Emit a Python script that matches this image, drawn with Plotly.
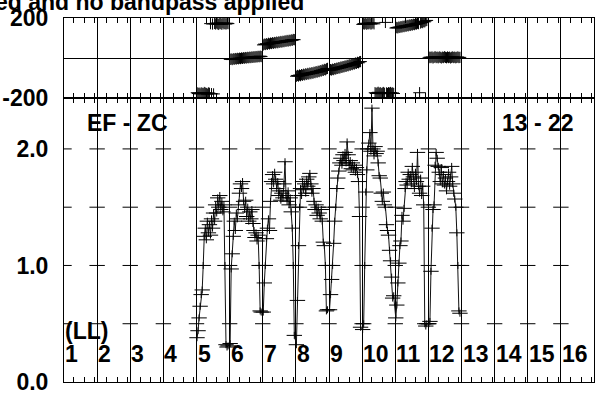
import plotly.graph_objects as go

# ---------------- data ----------------
IF_NUMBERS = [5, 6, 7, 8, 9, 10, 11, 12]
CHANNELS = list(range(1, 32))
N_IF_TOTAL = 16
CHAN_PER_IF = 32
IF_LABELS = [str(i) for i in range(1, 17)]
AMP_TICK_VALUES = [0.0, 1.0, 2.0]
AMP_TICK_TEXT = ["0.0", "1.0", "2.0"]
AMP_CROSS_TICKS = [0.5, 1.0, 1.5, 2.0]
PHASE_TICK_VALUES = [-200, 0, 200]
PHASE_TICK_TEXT = ["-200", "", "200"]
CHAN_TICKS = [10, 20, 30]
PHASE_ERR = 28
AMP_ERR = 0.03

amp_if05 = [0.38, 0.44, 0.55, 0.65, 0.75, 0.79, 1.00, 1.25, 1.32, 1.22,
            1.38, 1.28, 1.35, 1.26, 1.40, 1.32, 1.45, 1.38, 1.52, 1.45,
            1.58, 1.50, 1.60, 1.48, 1.55, 1.46, 1.52, 1.00, 0.32, 0.30, 0.31]
amp_if06 = [0.33, 0.97, 1.10, 1.25, 1.38, 1.30, 1.45, 1.40, 1.52, 1.62,
            1.70, 1.66, 1.72, 1.55, 1.48, 1.56, 1.42, 1.50, 1.38, 1.46,
            1.40, 1.48, 1.36, 1.30, 1.24, 1.28, 1.21, 1.26, 1.00, 0.61, 0.60]
amp_if07 = [0.60, 0.85, 1.00, 1.23, 1.32, 1.40, 1.30, 1.55, 1.72, 1.78,
            1.70, 1.80, 1.74, 1.66, 1.72, 1.60, 1.64, 1.56, 1.62, 1.58,
            1.70, 1.89, 1.60, 1.55, 1.64, 1.52, 1.58, 1.46, 1.32, 1.00, 0.40]
amp_if08 = [0.32, 0.70, 1.17, 1.50, 1.66, 1.60, 1.72, 1.65, 1.70, 1.62,
            1.74, 1.68, 1.76, 1.79, 1.70, 1.62, 1.66, 1.55, 1.48, 1.52,
            1.43, 1.50, 1.45, 1.40, 1.48, 1.38, 1.20, 1.17, 1.00, 0.61, 0.62]
amp_if09 = [0.62, 0.75, 0.88, 1.00, 1.19, 1.38, 1.50, 1.66, 1.75, 1.81,
            1.88, 1.92, 1.86, 1.95, 1.90, 1.97, 1.88, 2.06, 1.95, 1.86,
            1.90, 1.83, 1.88, 1.82, 1.86, 1.80, 1.84, 1.78, 1.72, 1.42, 0.47]
amp_if10 = [0.45, 0.50, 1.00, 1.63, 1.82, 2.00, 2.05, 2.14, 1.98, 2.35,
            2.00, 1.94, 2.02, 1.96, 1.98, 1.88, 1.77, 1.75, 1.62, 1.55,
            1.63, 1.52, 1.50, 1.35, 1.30, 1.26, 1.13, 1.04, 0.90, 0.72, 0.74]
amp_if11 = [0.55, 0.66, 0.85, 1.02, 1.17, 1.21, 1.43, 1.38, 1.49, 1.66,
            1.72, 1.69, 1.80, 1.74, 1.78, 1.70, 1.85, 1.76, 1.66, 1.80,
            1.72, 1.97, 1.68, 1.62, 1.75, 1.60, 1.68, 1.52, 0.50, 0.48, 0.50]
amp_if12 = [0.50, 0.52, 0.95, 1.32, 1.48, 1.52, 1.86, 1.97, 1.92, 1.85,
            1.80, 1.72, 1.84, 1.70, 1.78, 1.69, 1.75, 1.64, 1.72, 1.80,
            1.68, 1.76, 1.85, 1.70, 1.62, 1.57, 1.50, 1.28, 1.00, 0.61, 0.59]

ph_if05 = [-172, -176, -174, -178, -173, -175, -177, -171, -174, -176,
           -179, -173, -175, 172, -177, 170, -178, 173, 170, 175,
           171, 168, 174, 172, 169, 176, 171, 173, 170, 174, 172]
ph_if06 = [-6, -4, -7, -3, -5, -2, -4, -1, -3, 0,
           -2, 1, -1, 2, 0, 3, 1, 4, 2, 5,
           3, 6, 4, 7, 5, 8, 6, 9, 7, 10, 8]
ph_if07 = [66, 70, 68, 72, 69, 74, 71, 75, 73, 77,
           74, 78, 76, 80, 77, 81, 79, 83, 80, 84,
           82, 86, 84, 88, 85, 89, 87, 91, 89, 93, 92]
ph_if08 = [-90, -86, -89, -84, -87, -82, -85, -80, -83, -78,
           -81, -76, -79, -74, -77, -72, -75, -70, -72, -67,
           -70, -65, -67, -62, -64, -59, -61, -56, -58, -53, -51]
ph_if09 = [-60, -57, -59, -55, -57, -52, -54, -50, -51, -47,
           -49, -44, -46, -42, -43, -39, -41, -36, -38, -33,
           -35, -30, -32, -27, -29, -24, -26, -21, -23, -18, -17]
ph_if10 = [168, 172, 170, 174, 169, 173, 171, 175, 170, 172,
           176, 171, -172, -176, -173, -170, -175, -172, -177, -174,
           -171, -175, 178, -173, -176, -172, -174, -171, -175, -173, -176]
ph_if11 = [150, 153, 151, 155, 153, 157, 155, 159, 157, 161,
           159, 163, 161, 165, 163, 167, 165, 169, 167, 171,
           170, 174, 172, -172, 175, 179, 177, 182, 181, 186, 188]
ph_if12 = [2, 5, 3, 6, 1, 4, 7, 3, 5, 2,
           6, 4, 1, 5, 3, 7, 4, 2, 6, 3,
           5, 1, 4, 6, 3, 5, 2, 4, 6, 3, 4]

amp_lists = [amp_if05, amp_if06, amp_if07, amp_if08,
             amp_if09, amp_if10, amp_if11, amp_if12]
ph_lists = [ph_if05, ph_if06, ph_if07, ph_if08,
            ph_if09, ph_if10, ph_if11, ph_if12]

# ---------------- build ----------------
x_all, amp_all, ph_all = [], [], []
for ifn, amps, phs in zip(IF_NUMBERS, amp_lists, ph_lists):
    for ch, a, p in zip(CHANNELS, amps, phs):
        x_all.append((ifn - 1) * CHAN_PER_IF + ch)
        amp_all.append(a)
        ph_all.append(p)

boundaries = [k * CHAN_PER_IF + 0.5 for k in range(N_IF_TOTAL + 1)]
chan_tick_pos = [k * CHAN_PER_IF + c for k in range(N_IF_TOTAL) for c in CHAN_TICKS]

FONT = "Liberation Sans, Arial, Helvetica, sans-serif"
BLACK = "#000000"

fig = go.Figure()

# boundary tick crosses in amplitude panel
bx, by = [], []
for b in boundaries[:-1]:
    for v in AMP_CROSS_TICKS:
        bx.append(b)
        by.append(v)
fig.add_trace(go.Scatter(
    x=bx, y=by, mode="markers", xaxis="x", yaxis="y",
    marker=dict(symbol="line-ew", size=11, line=dict(color=BLACK, width=1)),
    hoverinfo="skip", showlegend=False))

fig.add_trace(go.Scatter(
    x=x_all, y=amp_all, mode="lines+markers", xaxis="x", yaxis="y",
    line=dict(color="#111111", width=1),
    marker=dict(symbol="line-ew", size=11, line=dict(color=BLACK, width=1)),
    error_y=dict(type="constant", value=AMP_ERR, thickness=1, width=0, color=BLACK),
    showlegend=False))

fig.add_trace(go.Scatter(
    x=x_all, y=ph_all, mode="markers", xaxis="x2", yaxis="y2",
    marker=dict(symbol="line-ew", size=9, line=dict(color=BLACK, width=1)),
    error_y=dict(type="constant", value=PHASE_ERR, thickness=1, width=0, color=BLACK),
    showlegend=False))

split = (385 - 99) / 367.0

xcommon = dict(
    range=[0.5, N_IF_TOTAL * CHAN_PER_IF + 0.5],
    tickmode="array", tickvals=boundaries, showticklabels=False,
    ticks="", showgrid=True, gridcolor=BLACK, gridwidth=1,
    minor=dict(tickmode="array", tickvals=chan_tick_pos, ticks="inside",
               ticklen=5, tickwidth=1, tickcolor=BLACK, showgrid=False),
    showline=True, linecolor=BLACK, linewidth=1, mirror="ticks",
    zeroline=False, domain=[0, 1])

tickfont = dict(family=FONT, size=23, color=BLACK, weight="bold")

fig.update_layout(
    width=595, height=395,
    margin=dict(l=64, r=0, t=18, b=10),
    paper_bgcolor="white", plot_bgcolor="white",
    showlegend=False,
    xaxis=dict(**xcommon, anchor="y"),
    xaxis2=dict(**xcommon, anchor="y2", matches="x"),
    yaxis=dict(domain=[0, split], range=[0, 2.434],
               tickmode="array", tickvals=AMP_TICK_VALUES, ticktext=AMP_TICK_TEXT,
               ticks="", showgrid=False, zeroline=False,
               showline=True, linecolor=BLACK, linewidth=1, mirror=True,
               tickfont=tickfont, ticklabelstandoff=10, ticklabeloverflow="allow"),
    yaxis2=dict(domain=[split, 1], range=[-200, 200],
                tickmode="array", tickvals=PHASE_TICK_VALUES, ticktext=PHASE_TICK_TEXT,
                ticks="", showgrid=True, gridcolor=BLACK, gridwidth=1, zeroline=False,
                showline=True, linecolor=BLACK, linewidth=1, mirror=True,
                tickfont=tickfont, ticklabelstandoff=10, ticklabeloverflow="allow"),
)

ann_font = dict(family=FONT, size=23, color=BLACK)
annotations = []
for lbl, b in zip(IF_LABELS, boundaries[:-1]):
    annotations.append(dict(x=b, y=0.238, xref="x", yref="y", text="<b>" + lbl + "</b>",
                            showarrow=False, xanchor="left", yanchor="middle",
                            xshift=-1, font=ann_font))
annotations.append(dict(x=boundaries[0], y=0.44, xref="x", yref="y", text="<b>(LL)</b>",
                        showarrow=False, xanchor="left", yanchor="middle",
                        xshift=-1, font=ann_font))
annotations.append(dict(x=(127.5 - 64) / 531, y=2.22, xref="paper", yref="y",
                        text="<b>EF - ZC</b>", showarrow=False,
                        xanchor="center", yanchor="middle", font=ann_font))
annotations.append(dict(x=(539 - 64) / 531, y=2.22, xref="paper", yref="y",
                        text="<b>13 - 22</b>", showarrow=False,
                        xanchor="center", yanchor="middle", font=ann_font))
annotations.append(dict(x=(306 - 64) / 531, y=1 + (18 - 2.0) / 367, xref="paper", yref="paper",
                        text="<b>ed and no bandpass applied</b>", showarrow=False,
                        xanchor="right", yanchor="middle",
                        font=dict(family=FONT, size=23, color=BLACK)))
fig.update_layout(annotations=annotations)

fig.write_html("out.html",
               config={"displayModeBar": False},
               post_script="document.body.style.margin='0';document.body.style.overflow='hidden';")
